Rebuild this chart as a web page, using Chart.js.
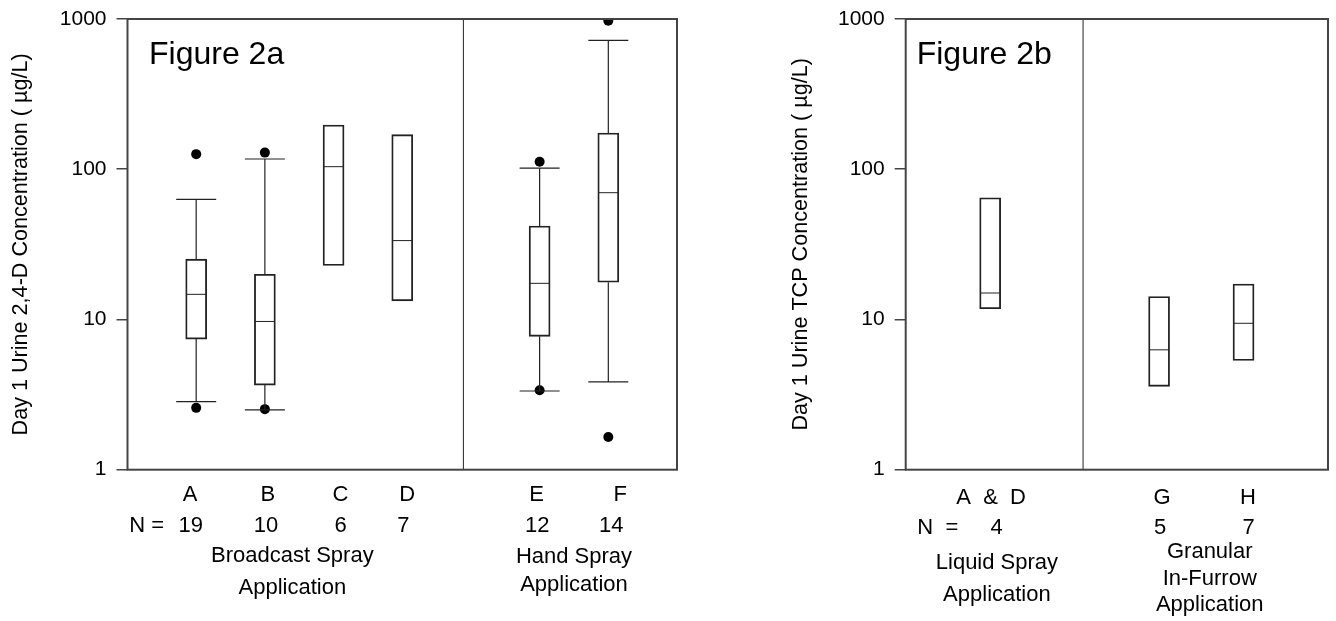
<!DOCTYPE html>
<html lang="en">
<head>
<meta charset="UTF-8">
<title>Figure 2</title>
<script src="https://cdn.jsdelivr.net/npm/chart.js"></script>
<style>
  body { margin: 0; background: #fff; }
  #wrapA { position: absolute; left: 0; top: 0; width: 690px; height: 621px; }
  #wrapB { position: absolute; left: 690px; top: 0; width: 646px; height: 621px; }
</style>
</head>
<body>
<div id="wrapA"><canvas id="chartA"></canvas></div>
<div id="wrapB"><canvas id="chartB"></canvas></div>

<script>
// ---- figure 2a : urine 2,4-D ----
const lettersA = ['A', 'B', 'C', 'D', 'E', 'F'];
const slotsA = [1, 2, 3, 4, 6, 7];
const countsA = [19, 10, 6, 7, 12, 14];
const q1A = [7.4, 3.66, 22.9, 13.3, 7.72, 17.7];
const medA = [14.7, 9.7, 104, 33.5, 17.4, 69.8];
const q3A = [25.2, 20, 197, 170, 41.9, 174];
const loA = [2.84, 2.5, null, null, 3.34, 3.84];
const hiA = [63, 117, null, null, 101.6, 720];
const outHighA = [126, 129, null, null, 112, 975];
const outLowA = [2.58, 2.53, null, null, 3.38, 1.65];
const groupsA = [['Broadcast Spray', 'Application'], ['Hand Spray', 'Application']];

// ---- figure 2b : urine TCP ----
const lettersB = ['A  &  D', 'G', 'H'];
const slotsB = [1, 3, 4];
const countsB = [4, 5, 7];
const q1B = [11.8, 3.59, 5.33];
const medB = [15.0, 6.28, 9.43];
const q3B = [64.5, 14.2, 17.2];
const groupsB = [['Liquid Spray', 'Application'], ['Granular', 'In-Furrow', 'Application']];

const yTicks = [1, 10, 100, 1000];

const FONT = "Arial, 'Liberation Sans', sans-serif";
Chart.defaults.font.family = FONT;
Chart.defaults.color = '#000';

const INK = '#222';

// box plot pieces as ordinary datasets
function boxDatasets(slots, q1, med, q3, lo, hi, outHigh, outLow, divider) {
  const sets = [];
  const whisk = [];
  const caps = [];
  const outs = [];
  slots.forEach((x, i) => {
    if (hi && hi[i] != null) {
      whisk.push({ x: x, y: q3[i] }, { x: x, y: hi[i] }, { x: x, y: null });
      caps.push({ x: x, y: hi[i] });
    }
    if (lo && lo[i] != null) {
      whisk.push({ x: x, y: q1[i] }, { x: x, y: lo[i] }, { x: x, y: null });
      caps.push({ x: x, y: lo[i] });
    }
    if (outHigh && outHigh[i] != null) outs.push({ x: x, y: outHigh[i] });
    if (outLow && outLow[i] != null) outs.push({ x: x, y: outLow[i] });
  });

  sets.push({
    type: 'bar',
    data: slots.map((x, i) => ({ x: x, y: [q1[i], q3[i]] })),
    backgroundColor: 'rgba(0,0,0,0)',
    borderColor: INK,
    borderWidth: 1.2,
    borderSkipped: false,
    barThickness: 21,
    grouped: false
  });
  sets.push({
    type: 'scatter',
    data: slots.map((x, i) => ({ x: x, y: med[i] })),
    pointStyle: 'line',
    pointRadius: 10,
    pointBorderColor: INK,
    pointBorderWidth: 1
  });
  if (whisk.length) {
    sets.push({
      type: 'line',
      data: whisk,
      borderColor: INK,
      borderWidth: 1.2,
      pointRadius: 0,
      spanGaps: false
    });
    sets.push({
      type: 'scatter',
      data: caps,
      pointStyle: 'line',
      pointRadius: 20,
      pointBorderColor: INK,
      pointBorderWidth: 1.2
    });
  }
  if (outs.length) {
    sets.push({
      type: 'scatter',
      data: outs,
      pointRadius: 5,
      pointBackgroundColor: '#000',
      pointBorderWidth: 0
    });
  }
  sets.push({
    type: 'line',
    data: [{ x: divider, y: 1 }, { x: divider, y: 1000 }],
    borderColor: INK,
    borderWidth: 1,
    pointRadius: 0
  });
  return sets;
}

// frame round the plot area
const framePlugin = {
  id: 'frame',
  afterDatasetsDraw(chart) {
    const { ctx, chartArea: a } = chart;
    ctx.save();
    ctx.strokeStyle = '#444';
    ctx.lineWidth = 2;
    ctx.strokeRect(a.left, a.top, a.right - a.left, a.bottom - a.top);
    ctx.restore();
  }
};

// free text: figure name, category letters, counts, group names
const textPlugin = {
  id: 'texts',
  afterDraw(chart, args, opts) {
    const { ctx, chartArea: a } = chart;
    const xs = chart.scales.x;
    ctx.save();
    ctx.fillStyle = '#000';
    ctx.font = '32px ' + FONT;
    ctx.textAlign = 'left';
    ctx.textBaseline = 'alphabetic';
    ctx.fillText(opts.figure, a.left + opts.figureDx, opts.figureY);

    ctx.font = '22px ' + FONT;
    ctx.textAlign = 'center';
    ctx.textBaseline = 'middle';
    opts.slots.forEach((x, i) => {
      const px = xs.getPixelForValue(x);
      ctx.fillText(opts.letters[i], px + opts.letterDx[i], opts.rowY[0]);
      ctx.fillText(String(opts.counts[i]), px + opts.countDx[i], opts.rowY[1]);
    });
    opts.items.forEach(it => {
      const px = xs.getPixelForValue(it.x);
      it.lines.forEach((t, k) => ctx.fillText(t, px, it.y[k]));
    });
    ctx.restore();
  }
};

function makeOptions(xMax, yTitle, pad, yWidth, texts) {
  return {
    responsive: true,
    maintainAspectRatio: false,
    animation: false,
    events: [],
    layout: { padding: pad, autoPadding: false },
    plugins: {
      legend: { display: false },
      tooltip: { enabled: false },
      texts: texts
    },
    scales: {
      x: {
        type: 'linear',
        min: 0,
        max: xMax,
        offset: false,
        grid: { display: false, drawTicks: false },
        border: { display: false },
        ticks: { display: false },
        afterFit: s => { s.height = 151.3; }
      },
      y: {
        type: 'logarithmic',
        min: 1,
        max: 1000,
        afterBuildTicks: s => { s.ticks = yTicks.map(v => ({ value: v })); },
        afterFit: s => { s.width = yWidth; },
        grid: { drawOnChartArea: false, drawTicks: true, tickLength: 11, color: '#444', lineWidth: 1.5 },
        border: { display: false },
        ticks: { padding: 10, color: '#000', font: { size: 21, lineHeight: 0.8 }, callback: v => String(v) },
        title: {
          display: true,
          text: yTitle,
          color: '#000',
          font: { size: 21.6 },
          padding: { top: 8, bottom: 0 }
        }
      }
    }
  };
}

new Chart(document.getElementById('chartA'), {
  type: 'scatter',
  data: { datasets: boxDatasets(slotsA, q1A, medA, q3A, loA, hiA, outHighA, outLowA, 4.89) },
  options: makeOptions(8, 'Day 1 Urine 2,4-D Concentration ( µg/L)',
    { left: 0, top: 19, right: 13, bottom: 0 }, 127.5,
    {
      figure: 'Figure 2a', figureDx: 21.5, figureY: 63.5,
      slots: slotsA, letters: lettersA, counts: countsA, rowY: [495, 526],
      letterDx: [-6, 3, 7, 5, -3, 12], countDx: [-5.5, 1, 7, 1, -2.5, 3],
      items: [
        { x: 0.28, y: [526], lines: ['N ='] },
        { x: 2.4, y: [556, 588], lines: groupsA[0] },
        { x: 6.5, y: [556.5, 584.5], lines: groupsA[1] }
      ]
    }),
  plugins: [framePlugin, textPlugin]
});

new Chart(document.getElementById('chartB'), {
  type: 'scatter',
  data: { datasets: boxDatasets(slotsB, q1B, medB, q3B, null, null, null, null, 2.1) },
  options: makeOptions(5, 'Day 1 Urine TCP Concentration ( µg/L)',
    { left: 90, top: 19, right: 8, bottom: 0 }, 125.7,
    {
      figure: 'Figure 2b', figureDx: 11, figureY: 63.5,
      slots: slotsB, letters: lettersB, counts: countsB, rowY: [497.5, 528],
      letterDx: [1, 3, 4.5], countDx: [6.5, 1, 5],
      items: [
        { x: 0.38, y: [528], lines: ['N  ='] },
        { x: 1.08, y: [563, 595], lines: groupsB[0] },
        { x: 3.6, y: [551.5, 579, 605], lines: groupsB[1] }
      ]
    }),
  plugins: [framePlugin, textPlugin]
});
</script>
</body>
</html>
